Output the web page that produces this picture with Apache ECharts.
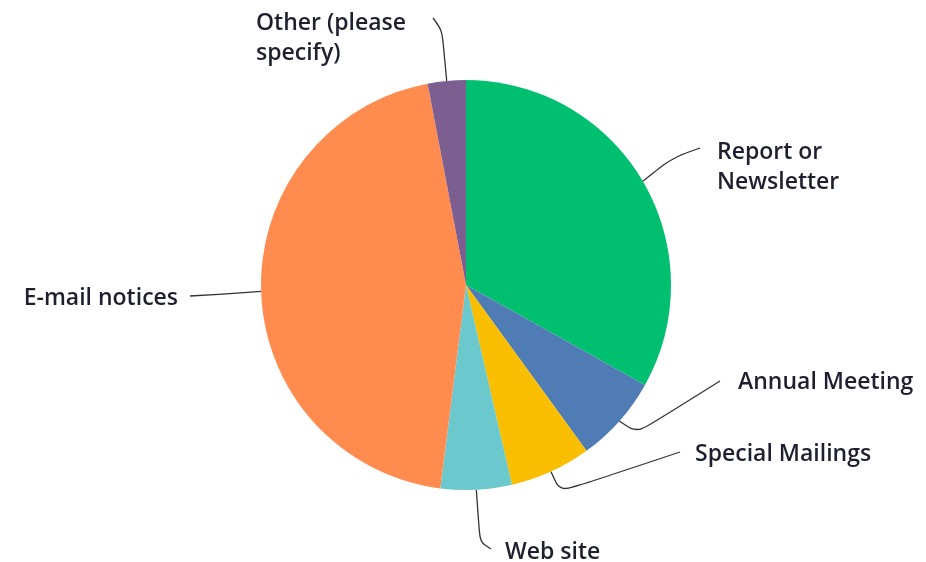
<!DOCTYPE html>
<html>
<head>
<meta charset="utf-8">
<script src="https://cdn.jsdelivr.net/npm/echarts@6/dist/echarts.min.js"></script>
<style>html,body{margin:0;padding:0;background:#fff;}#c{width:926px;height:562px;}</style>
</head>
<body>
<div id="c"></div>
<script>
const categories = ['Report or\nNewsletter', 'Annual Meeting', 'Special Mailings', 'Web site', 'E-mail notices', 'Other (please\nspecify)'];
const values = [33.1, 6.9, 6.4, 5.6, 45.0, 3.0];
const colors = ['#00BF6F', '#507CB6', '#F9BE00', '#6BC8CD', '#FF8B4F', '#7D5E90'];

// label placement (text anchor + bend points of leader lines), style only
const labelPlaces = [
  {x: 717, y: 167, align: 'left', bend: [[672, 158], [700, 148]]},
  {x: 738, y: 382, align: 'left', bend: [[637, 433], [720, 381]]},
  {x: 695, y: 454, align: 'left', bend: [[560, 492], [680, 452]]},
  {x: 505, y: 552, align: 'left', bend: [[480, 542], [491, 549]]},
  {x: 178, y: 298, align: 'right', bend: [[226, 294], [190, 296]]},
  {x: 256, y: 38, align: 'left', bend: [[442, 30], [433, 18]]}
];

const chart = echarts.init(document.getElementById('c'), null, {renderer: 'canvas'});
chart.setOption({
  animation: false,
  series: [{
    type: 'pie',
    center: [466, 285],
    radius: 205,
    startAngle: 90,
    clockwise: true,
    data: categories.map((n, i) => ({name: n, value: values[i], itemStyle: {color: colors[i]}})),
    label: {
      show: true,
      position: 'outside',
      formatter: '{b}',
      color: '#1e2030',
      fontSize: 23,
      lineHeight: 30,
      fontFamily: 'Open Sans',
      fontWeight: 600
    },
    labelLine: {
      show: true,
      length: 20,
      length2: 20,
      smooth: 0.3,
      lineStyle: {color: '#333', width: 1.3}
    },
    labelLayout: function (params) {
      const p = labelPlaces[params.dataIndex];
      const start = params.labelLinePoints[0];
      return {
        x: p.x,
        y: p.y,
        align: p.align,
        verticalAlign: 'middle',
        labelLinePoints: [start, p.bend[0], p.bend[1]]
      };
    }
  }]
});
</script>
</body>
</html>
